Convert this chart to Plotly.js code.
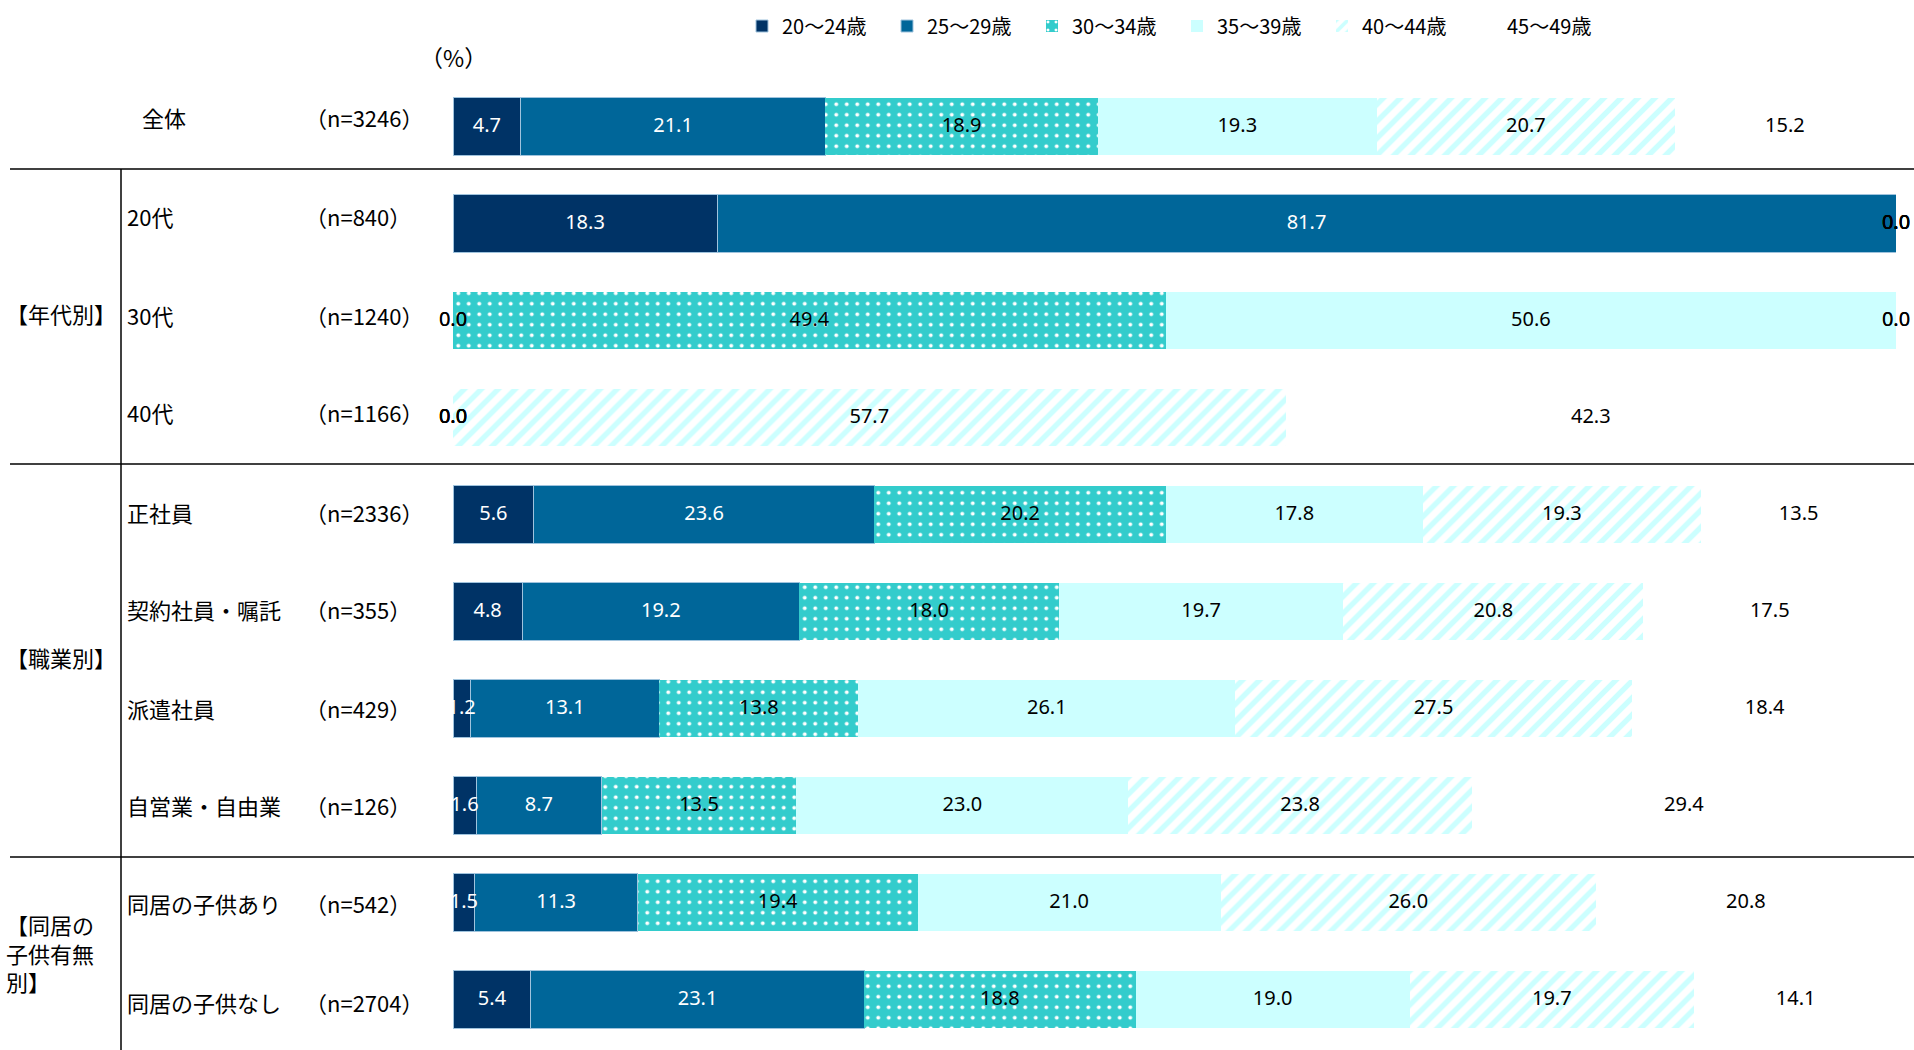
<!DOCTYPE html>
<html><head><meta charset="utf-8">
<script src="https://cdn.plot.ly/plotly-3.0.1.min.js"></script>
<style>html,body{margin:0;padding:0;background:#fff}</style>
</head><body><div id="chart" style="width:1914px;height:1050px"></div>
<script>
// ---- data ----
const categories = ['全体','20代','30代','40代','正社員','契約社員・嘱託','派遣社員','自営業・自由業','同居の子供あり','同居の子供なし'];
const sampleSizes = ['（n=3246）','（n=840）','（n=1240）','（n=1166）','（n=2336）','（n=355）','（n=429）','（n=126）','（n=542）','（n=2704）'];
const seriesNames = ['20〜24歳','25〜29歳','30〜34歳','35〜39歳','40〜44歳','45〜49歳'];
const age20_24 = [4.7,18.3,0,0,5.6,4.8,1.2,1.6,1.5,5.4];
const age25_29 = [21.1,81.7,0,0,23.6,19.2,13.1,8.7,11.3,23.1];
const age30_34 = [18.9,0,49.4,0,20.2,18.0,13.8,13.5,19.4,18.8];
const age35_39 = [19.3,0,50.6,0,17.8,19.7,26.1,23.0,21.0,19.0];
const age40_44 = [20.7,0,0,57.7,19.3,20.8,27.5,23.8,26.0,19.7];
const age45_49 = [15.2,0,0,42.3,13.5,17.5,18.4,29.4,20.8,14.1];
const groupLabels = ['【年代別】','【職業別】','【同居の<br>子供有無<br>別】'];
const groupFirstRow = [1,4,8];
const groupLastRow = [3,7,9];
const unitLabel = '（%）';

// ---- layout geometry (pixels) ----
const W = 1914, H = 1050;
const plotL = 453, plotR = 1896, plotT = 78, plotB = 1048;
const px2x = p => (p - plotL) / (plotR - plotL);
const px2y = p => (plotB - p) / (plotB - plotT);
// vertical nudges of the row labels (px, up positive)
const rowLabelShift = [10, 8, 6, 5.5, 3, 3, 1, 0.5, -0.3, -2];
const groupLabelShift = [8, 3, -1];

const seriesValues = [age20_24, age25_29, age30_34, age35_39, age40_44, age45_49];
const styles = [
  {color:'#003366', line:{width:1, color:'#9fc3dd'}},
  {color:'#006699', line:{width:1, color:'#9fc3dd'}},
  {color:'#33CCCC', line:{width:0}, pattern:{shape:'.', bgcolor:'#33CCCC', fgcolor:'#ffffff', size:10.5, solidity:0.11, fillmode:'replace'}},
  {color:'#CCFFFF', line:{width:0}},
  {color:'#CCFFFF', line:{width:0}, pattern:{shape:'/', bgcolor:'#ffffff', fgcolor:'#CCFFFF', size:12, solidity:0.45, fillmode:'replace'}},
  {color:'rgba(255,255,255,0)', line:{width:0}}
];
const textColors = ['#ffffff','#ffffff','#000000','#000000','#000000','#000000'];

const traces = [];
seriesValues.forEach((vals, s) => {
  traces.push({
    type:'bar', orientation:'h', name:seriesNames[s],
    x: vals, y: categories,
    marker: styles[s],
    hoverinfo:'skip', textposition:'none'
  });
});

// labels
const lx = [], ly = [], lt = [], lc = [];
categories.forEach((c, i) => {
  let cum = 0;
  seriesValues.forEach((vals, s) => {
    const v = vals[i];
    lx.push(cum + v / 2);
    ly.push(c);
    lt.push(v.toFixed(1));
    lc.push(v > 0 ? textColors[s] : '#000000');
    cum += v;
  });
});
traces.push({
  type:'scatter', mode:'text', x:lx, y:ly, text:lt,
  textposition:'middle center',
  textfont:{family:'Noto Sans, sans-serif', size:20, color:lc},
  cliponaxis:false, showlegend:false, hoverinfo:'skip'
});

const annotations = [];
const jp = 'Noto Sans CJK JP, sans-serif';
categories.forEach((c, i) => {
  annotations.push({
    xref:'paper', yref:'y', x: px2x(i === 0 ? 140 : 125), y: i, text: c,
    xanchor:'left', yanchor:'middle', showarrow:false, yshift:rowLabelShift[i],
    font:{family:jp, size:22, color:'#000'}
  });
  annotations.push({
    xref:'paper', yref:'y', x: px2x(303), y: i, text: sampleSizes[i],
    xanchor:'left', yanchor:'middle', showarrow:false, yshift:rowLabelShift[i],
    font:{family:jp, size:22, color:'#000'}
  });
});
groupLabels.forEach((g, k) => {
  annotations.push({
    xref:'paper', yref:'y', x: px2x(4), y: (groupFirstRow[k] + groupLastRow[k]) / 2, text: g,
    xanchor:'left', yanchor:'middle', align:'left', showarrow:false, yshift:groupLabelShift[k],
    font:{family:jp, size:22, color:'#000'}
  });
});
annotations.push({
  xref:'paper', yref:'paper', x: px2x(453), y: px2y(57), text: unitLabel,
  xanchor:'center', yanchor:'middle', showarrow:false,
  font:{family:jp, size:23, color:'#000'}
});

const lineStyle = {color:'#000', width:1.5};
const shapes = [
  {type:'line', xref:'paper', yref:'paper', x0:px2x(10), x1:px2x(1914), y0:px2y(169), y1:px2y(169), line:lineStyle},
  {type:'line', xref:'paper', yref:'paper', x0:px2x(10), x1:px2x(1914), y0:px2y(464), y1:px2y(464), line:lineStyle},
  {type:'line', xref:'paper', yref:'paper', x0:px2x(10), x1:px2x(1914), y0:px2y(857), y1:px2y(857), line:lineStyle},
  {type:'line', xref:'paper', yref:'paper', x0:px2x(121), x1:px2x(121), y0:px2y(169), y1:px2y(1050), line:lineStyle}
];

const layout = {
  width:W, height:H,
  margin:{l:plotL, r:W - plotR, t:plotT, b:H - plotB, pad:0},
  barmode:'stack', bargap:0.412,
  paper_bgcolor:'#fff', plot_bgcolor:'#fff',
  xaxis:{range:[0,100], visible:false, fixedrange:true},
  yaxis:{type:'category', categoryorder:'array', categoryarray:categories, autorange:'reversed', visible:false},
  showlegend:true,
  legend:{orientation:'h', x:px2x(742), xanchor:'left', y:px2y(26), yanchor:'middle',
          font:{family:jp, size:20, color:'#000'}, entrywidth:100, entrywidthmode:'pixels',
          traceorder:'normal', bgcolor:'rgba(0,0,0,0)'},
  font:{family:jp, color:'#000'},
  annotations, shapes
};

Plotly.newPlot('chart', traces, layout, {displayModeBar:false, staticPlot:true});
</script></body></html>
